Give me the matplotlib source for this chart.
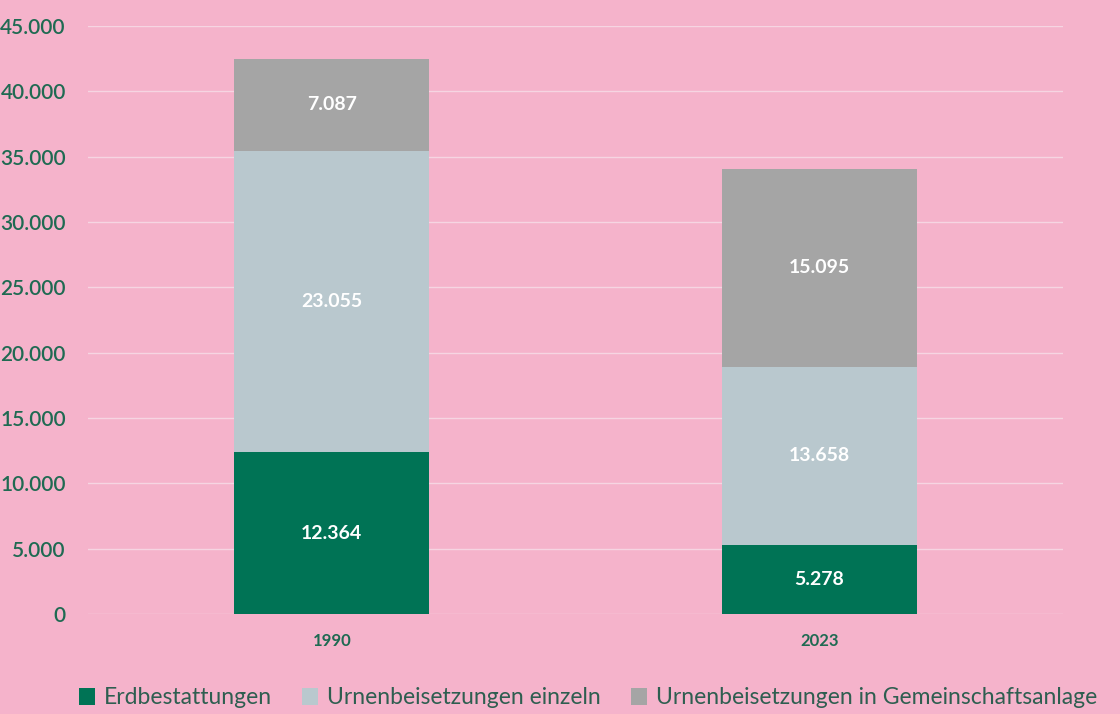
import matplotlib
matplotlib.use("Agg")
import matplotlib.pyplot as plt
from matplotlib.ticker import FuncFormatter

years = ["1990", "2023"]
series_names = ["Erdbestattungen", "Urnenbeisetzungen einzeln", "Urnenbeisetzungen in Gemeinschaftsanlage"]
erd = [12364, 5278]
urne_einzeln = [23055, 13658]
urne_gemein = [7087, 15095]
colors = ["#007355", "#B9C8CE", "#A5A5A5"]

bg = "#F5B3CB"
txt_green = "#1F6A52"

fig = plt.figure(figsize=(11.2, 7.14), dpi=100, facecolor=bg)
ax = fig.add_axes([88/1120, 100/714, (1063-88)/1120, (614-26)/714])
ax.set_facecolor(bg)

x = list(range(len(years)))
bottom = [0]*len(years)
for vals, name, col in zip([erd, urne_einzeln, urne_gemein], series_names, colors):
    ax.bar(x, vals, width=0.4, bottom=bottom, color=col, label=name, zorder=3)
    for xi, v, b in zip(x, vals, bottom):
        ax.text(xi, b + v/2, f"{v:,}".replace(",", "."), ha="center", va="center",
                color="white", fontsize=14, fontweight="bold", family="Lato", zorder=4)
    bottom = [b + v for b, v in zip(bottom, vals)]

ax.set_xlim(-0.5, 1.5)
ax.set_ylim(0, 45000)
ax.set_yticks(range(0, 45001, 5000))
ax.yaxis.set_major_formatter(FuncFormatter(lambda v, p: f"{int(v):,}".replace(",", ".")))
ax.set_xticks(x)
ax.set_xticklabels(years)
ax.grid(axis="y", color="#F6D5E2", linewidth=1, zorder=0)
for s in ax.spines.values():
    s.set_visible(False)
ax.tick_params(axis="both", length=0)
ax.tick_params(axis="y", pad=16)
ax.tick_params(axis="x", pad=14)
for lab in ax.get_yticklabels():
    lab.set_fontsize(15)
    lab.set_fontweight("semibold")
    lab.set_color(txt_green)
    lab.set_family("Lato")
for lab in ax.get_xticklabels():
    lab.set_fontsize(12)
    lab.set_fontweight("bold")
    lab.set_color(txt_green)
    lab.set_family("Lato")

leg = fig.legend(loc="center", bbox_to_anchor=(0.525, 16/714), ncol=3, frameon=False,
                 handlelength=0.7, handleheight=0.7, handletextpad=0.4,
                 columnspacing=1.3, prop={"family": "Lato", "size": 16.5})
for t in leg.get_texts():
    t.set_color("#2E5E50")

fig.savefig("out.png", dpi=100, facecolor=bg)
